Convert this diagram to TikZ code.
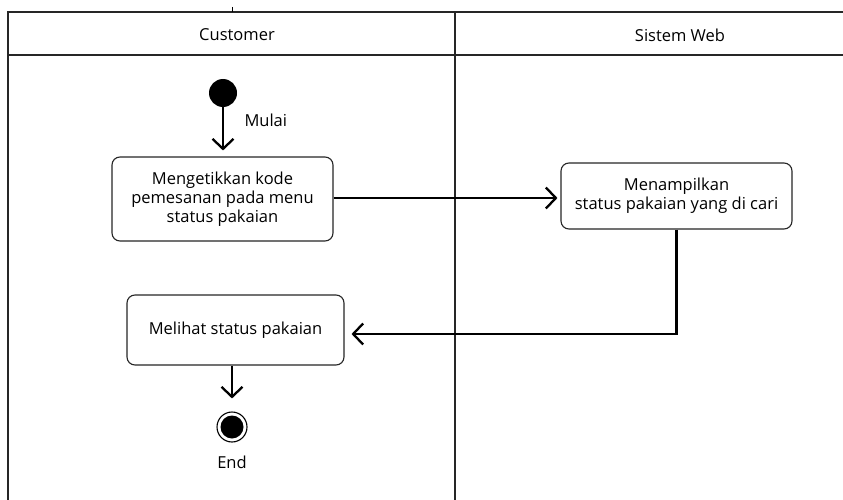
\documentclass[tikz,border=0pt]{standalone}
\usepackage{fontspec}
\setmainfont{Open Sans}
\usetikzlibrary{arrows.meta}
\begin{document}
\begin{tikzpicture}[x=1pt,y=-1pt,
  lane/.style={line width=1.4pt,draw=black!85},
  act/.style={draw=black!85,line width=1.1pt,rounded corners=8pt,fill=white,align=center,font=\fontsize{16.5}{19}\selectfont,inner sep=0pt},
  flow/.style={line width=2.3pt,-{Straight Barb[length=10pt,width=21pt,line width=2.3pt]}},
  lbl/.style={font=\fontsize{16.5}{19}\selectfont}]
\useasboundingbox (0,0) rectangle (843,500);
% swimlanes
\draw[lane] (8,500) -- (8,12) -- (843,12);
\draw[lane] (8,55) -- (843,55);
\draw[lane] (455,12) -- (455,500);
\draw[line width=1pt] (232,7) -- (232,12);
\node[lbl] (h1) at (237,35) {Customer};
\node[lbl] (h2) at (680,35) {Sistem Web};
% start
\node[circle,fill=black,minimum size=28pt,inner sep=0pt] (start) at (223,93) {};
\node[act,minimum width=221pt,minimum height=84pt] (a1) at (222.5,199) {Mengetikkan kode\\pemesanan pada menu\\status pakaian};
\node[act,minimum width=231pt,minimum height=66pt] (a2) at (676.5,196) {Menampilkan\\status pakaian yang di cari};
\node[act,minimum width=217pt,minimum height=70pt] (a3) at (235.5,330) {Melihat status pakaian};
\node[circle,draw=black,line width=1.1pt,minimum size=30pt,inner sep=0pt] (end) at (232,427) {};
\node[circle,fill=black,minimum size=23pt,inner sep=0pt] (endin) at (end) {};
\node[lbl] (endl) at (232,462) {End};
\node[lbl,anchor=west] (mulai) at (241,120) {Mulai};
% flows
\draw[flow,shorten >=6pt] (start) -- (start |- a1.north);
\draw[flow,shorten >=3pt] (a1.east |- 0,198) -- (a2.west |- 0,198);
\draw[flow,shorten >=7pt] (a2.south) |- ([yshift=-4pt]a3.east);
\draw[flow,shorten >=13pt] (a3.south -| end) -- (end.north);
\end{tikzpicture}
\end{document}
